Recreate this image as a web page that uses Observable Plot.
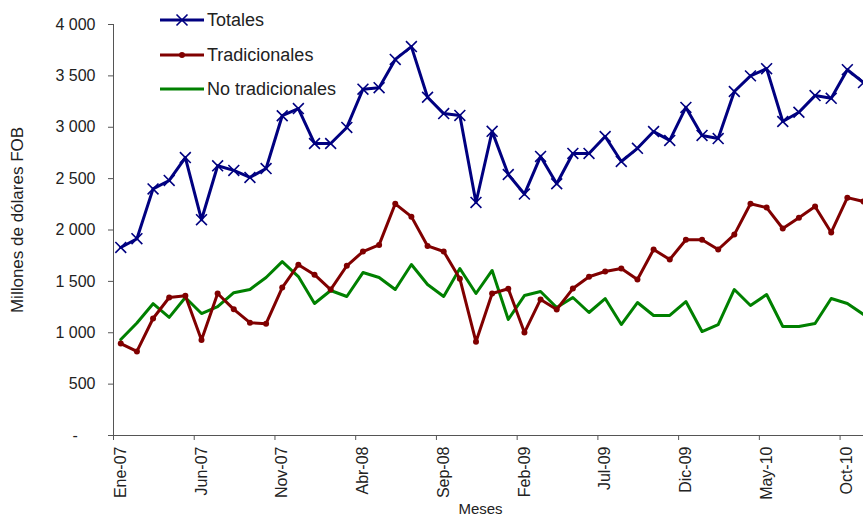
<!DOCTYPE html>
<html>
<head>
<meta charset="utf-8">
<script src="https://cdn.jsdelivr.net/npm/d3@7"></script>
<script src="https://cdn.jsdelivr.net/npm/@observablehq/plot@0.6"></script>
<style>
  body { margin: 0; background: #fff; font-family: "Liberation Sans", Arial, sans-serif; }
  #wrap { position: relative; width: 863px; height: 521px; overflow: hidden; }
  .leg { position: absolute; left: 160px; height: 24px; display: flex; align-items: center; font-size: 18px; color: #222; white-space: nowrap; }
  .leg svg { margin-right: 3px; }
</style>
</head>
<body>
<div id="wrap"></div>
<script>
// Monthly exports, Ene-07 .. Nov-10 (millones de dólares FOB)
const totales = [1830, 1915, 2400, 2482, 2705, 2100, 2625, 2580, 2512, 2598,
                 3112, 3182, 2842, 2842, 2998, 3370, 3385, 3660, 3785, 3292,
                 3133, 3115, 2268, 2960, 2540, 2350, 2716, 2450, 2745, 2745,
                 2910, 2667, 2795, 2958, 2872, 3193, 2920, 2890, 3348, 3500,
                 3570, 3056, 3146, 3308, 3282, 3560, 3435];
const tradicionales = [895, 818, 1139, 1343, 1360, 930, 1382, 1228, 1098, 1088,
                       1440, 1662, 1565, 1420, 1652, 1790, 1855, 2255, 2130, 1845,
                       1791, 1526, 912, 1382, 1428, 1002, 1324, 1226, 1430, 1545,
                       1596, 1625, 1518, 1810, 1713, 1905, 1905, 1810, 1955, 2255,
                       2218, 2015, 2120, 2228, 1976, 2315, 2277];
const noTradicionales = [934, 1095, 1283, 1150, 1343, 1187, 1255, 1390, 1421, 1538,
                         1692, 1547, 1285, 1411, 1353, 1586, 1538, 1421, 1664, 1470,
                         1353, 1625, 1382, 1606, 1129, 1362, 1401, 1246, 1343, 1197,
                         1333, 1080, 1294, 1168, 1168, 1304, 1012, 1080, 1421, 1265,
                         1372, 1061, 1061, 1090, 1333, 1285, 1178];
const tickLabels = ["Ene-07", "Jun-07", "Nov-07", "Abr-08", "Sep-08",
                    "Feb-09", "Jul-09", "Dic-09", "May-10", "Oct-10"];
const tickIndex = [0, 5, 10, 15, 20, 25, 30, 35, 40, 45];
const yTicks = [0, 500, 1000, 1500, 2000, 2500, 3000, 3500, 4000];
const seriesNames = ["Totales", "Tradicionales", "No tradicionales"];
const seriesColors = ["#000080", "#800000", "#008000"];

const half = 0.45; // categories centred between tick marks
const rows = (vals, name) => vals.map((v, i) => ({i, v, name}));
const tot = rows(totales, seriesNames[0]);
const tra = rows(tradicionales, seriesNames[1]);
const notr = rows(noTradicionales, seriesNames[2]);

const yFmt = d => d === 0 ? "-\u2007\u2007" : d3.format(",")(d).replace(/,/g, " ");
const axisColor = "#555";

const chart = Plot.plot({
  width: 863,
  height: 521,
  marginLeft: 113,
  marginRight: 0,
  marginTop: 24,
  marginBottom: 86,
  style: {fontFamily: "'Liberation Sans', Arial, sans-serif", fontSize: "15px", color: "#222", background: "#fff", overflow: "visible"},
  x: {type: "linear", domain: [-half, 46]},
  y: {domain: [0, 4000]},
  marks: [
    Plot.axisY({ticks: yTicks, tickFormat: yFmt, tickSize: 5, tickPadding: 13, stroke: axisColor, fontSize: 16, label: null}),
    Plot.axisX({ticks: tickIndex.map(i => i - half), tickFormat: () => "", tickSize: 5, stroke: axisColor, label: null}),
    Plot.axisX({ticks: tickIndex, tickFormat: d => tickLabels[Math.round(d / 5)], tickSize: 0, tickPadding: 11, tickRotate: -90, fontSize: 16, label: null}),
    Plot.ruleX([-half], {stroke: axisColor}),
    Plot.ruleY([0], {stroke: axisColor}),
    Plot.text(["Meses"], {frameAnchor: "bottom", dy: 78, dx: -8, fontSize: 15, fill: "#222"}),
    Plot.text(["Millones de dólares FOB"], {frameAnchor: "left", textAnchor: "middle", rotate: -90, dx: -96, dy: -10, fontSize: 17, fill: "#222"}),
    Plot.line(notr, {x: "i", y: "v", stroke: seriesColors[2], strokeWidth: 3}),
    Plot.line(tra, {x: "i", y: "v", stroke: seriesColors[1], strokeWidth: 3}),
    Plot.dot(tra, {x: "i", y: "v", r: 3, fill: seriesColors[1], stroke: "none"}),
    Plot.line(tot, {x: "i", y: "v", stroke: seriesColors[0], strokeWidth: 3}),
    Plot.dot(tot, {x: "i", y: "v", symbol: "times", r: 5, stroke: seriesColors[0], strokeWidth: 1.6})
  ]
});

const wrap = document.getElementById("wrap");
wrap.appendChild(chart);

// Legend (overlaid inside the plot area, top-left)
const legendCenters = [20, 55, 89];
seriesNames.forEach((name, k) => {
  const item = document.createElement("div");
  item.className = "leg";
  item.style.top = (legendCenters[k] - 12) + "px";
  let marker = "";
  if (k === 0) marker = `<path d="M16.5,6.5L27.5,17.5M27.5,6.5L16.5,17.5" stroke="${seriesColors[k]}" stroke-width="1.6" fill="none"/>`;
  if (k === 1) marker = `<circle cx="22" cy="12" r="3" fill="${seriesColors[k]}"/>`;
  item.innerHTML = `<svg width="44" height="24"><line x1="0" x2="44" y1="12" y2="12" stroke="${seriesColors[k]}" stroke-width="3"/>${marker}</svg><span>${name}</span>`;
  wrap.appendChild(item);
});
</script>
</body>
</html>
